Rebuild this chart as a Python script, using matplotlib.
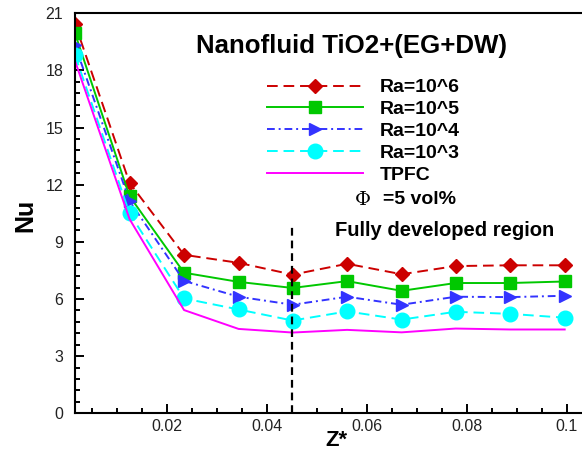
import matplotlib
matplotlib.use('Agg')
import matplotlib.pyplot as plt

# Z* positions of the computed points
z_star = [0.0017, 0.0126, 0.0235, 0.0344, 0.0452, 0.0561, 0.0670, 0.0778, 0.0887, 0.0996]

# Nu along the channel for each Rayleigh number
nu_ra6 = [20.45, 12.10, 8.32, 7.90, 7.28, 7.85, 7.30, 7.73, 7.77, 7.77]
nu_ra5 = [19.95, 11.40, 7.38, 6.90, 6.58, 6.94, 6.43, 6.84, 6.84, 6.92]
nu_ra4 = [19.32, 11.15, 6.95, 6.12, 5.70, 6.12, 5.70, 6.12, 6.10, 6.17]
nu_ra3 = [18.80, 10.50, 6.03, 5.45, 4.87, 5.35, 4.92, 5.33, 5.22, 5.02]
nu_tpfc = [18.50, 10.20, 5.42, 4.43, 4.24, 4.38, 4.25, 4.45, 4.40, 4.40]

labels = ['Ra=10^6', 'Ra=10^5', 'Ra=10^4', 'Ra=10^3', 'TPFC']

# fully developed region marker
z_fd = 0.045
nu_fd_top = 9.8

W, H = 582, 455
fig = plt.figure(figsize=(W / 100, H / 100), dpi=100)
plt.rcParams['font.family'] = ['Liberation Sans', 'DejaVu Sans']


def fx(px):
    return px / W


def fy(py):
    return 1 - py / H


ax = fig.add_axes([fx(75), fy(413.3), (586.7 - 75) / W, 400 / H])
ax.set_xlim(0.0017, 0.1040)
ax.set_ylim(0, 21)

lw = 1.4
ax.plot(z_star, nu_ra6, color='#cc0000', lw=lw, dashes=(5.5, 3),
        marker='D', ms=7.5, label=labels[0])
ax.plot(z_star, nu_ra5, color='#00c800', lw=lw, ls='-',
        marker='s', ms=8.5, label=labels[1])
ax.plot(z_star, nu_ra4, color='#3333ff', lw=lw, dashes=(4, 2, 1, 2),
        marker='>', ms=9, label=labels[2])
ax.plot(z_star, nu_ra3, color='#00ffff', lw=lw, dashes=(5.5, 3),
        marker='o', ms=10.5, label=labels[3])
ax.plot(z_star, nu_tpfc, color='#ff00ff', lw=lw, ls='-', label=labels[4])

ax.plot([z_fd, z_fd], [0, nu_fd_top], color='black', lw=1.6, dashes=(3.5, 2.2))

ax.set_xticks([0.02, 0.04, 0.06, 0.08, 0.1])
ax.set_xticklabels(['0.02', '0.04', '0.06', '0.08', '0.1'])
ax.set_xticks([0.005, 0.01, 0.015, 0.025, 0.03, 0.035, 0.045, 0.05, 0.055,
               0.065, 0.07, 0.075, 0.085, 0.09, 0.095, 0.1], minor=True)
ax.set_yticks([0, 3, 6, 9, 12, 15, 18, 21])
ax.set_yticks([v * 0.6 for v in range(36) if v % 5 != 0], minor=True)

ax.tick_params(which='both', direction='in', width=1.4, colors='black',
               labelcolor='#222222', labelsize=11.5, top=False, right=False)
ax.tick_params(which='major', length=6.5)
ax.tick_params(which='minor', length=3.6)
ax.tick_params(axis='y', pad=8.5)
ax.tick_params(axis='x', pad=4)
for s in ax.spines.values():
    s.set_linewidth(1.5)

leg = ax.legend(loc='upper left', bbox_to_anchor=(fx(267), fy(78.8)),
                bbox_transform=fig.transFigure, frameon=False, numpoints=1,
                handlelength=4.94, handletextpad=0.87, borderpad=0,
                borderaxespad=0, labelspacing=0.22,
                prop={'weight': 'bold', 'size': 14})

fig.text(fx(351.5), fy(46.5), 'Nanofluid TiO2+(EG+DW)', ha='center', va='center',
         fontsize=18.6, fontweight='bold')
fig.text(fx(363), fy(200), '\u03a6', ha='center', va='center', fontsize=14,
         family=['DejaVu Serif'])
fig.text(fx(383), fy(200), '=5 vol%', ha='left', va='center', fontsize=14,
         fontweight='bold')
fig.text(fx(335), fy(231), 'Fully developed region', ha='left', va='center',
         fontsize=14.5, fontweight='bold')
fig.text(fx(25), fy(215), 'Nu', ha='center', va='center', rotation=90,
         fontsize=18, fontweight='bold')
fig.text(fx(336), fy(441), 'Z*', ha='center', va='center', fontsize=16,
         fontweight='bold')

fig.savefig('out.png', dpi=100)
